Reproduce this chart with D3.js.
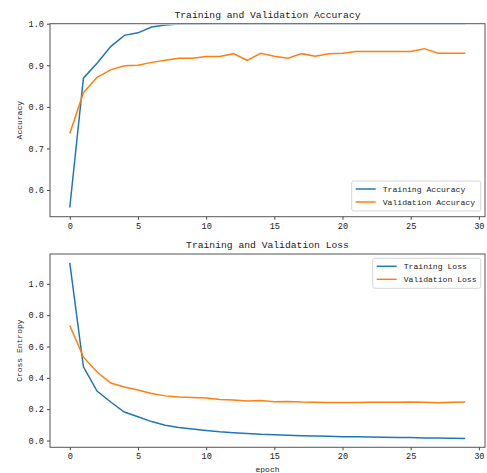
<!DOCTYPE html>
<html>
<head>
<meta charset="utf-8">
<script src="https://cdn.jsdelivr.net/npm/d3@7"></script>
<style>
  body { margin: 0; background: #fff; }
  text { font-family: "Liberation Mono", "DejaVu Sans Mono", monospace; fill: #222; }
</style>
</head>
<body>
<div id="chart"></div>
<script>
var epochs = d3.range(30);
var xTicks = [0, 5, 10, 15, 20, 25, 30];

var trainAcc = [0.558, 0.869, 0.905, 0.945, 0.972, 0.978, 0.992, 0.997, 0.999, 0.999,
  1.0, 1.0, 1.0, 1.0, 1.0, 1.0, 1.0, 1.0, 1.0, 1.0,
  1.0, 1.0, 1.0, 1.0, 1.0, 1.0, 1.0, 1.0, 1.0, 1.0];
var valAcc = [0.736, 0.834, 0.871, 0.889, 0.899, 0.900, 0.907, 0.912, 0.917, 0.917,
  0.921, 0.921, 0.928, 0.912, 0.929, 0.922, 0.917, 0.928, 0.922, 0.928,
  0.929, 0.933, 0.933, 0.933, 0.933, 0.933, 0.940, 0.929, 0.929, 0.929];
var accTicks = [0.6, 0.7, 0.8, 0.9, 1.0];

var trainLoss = [1.134, 0.470, 0.316, 0.246, 0.182, 0.152, 0.121, 0.098, 0.083, 0.073,
  0.064, 0.056, 0.050, 0.045, 0.040, 0.037, 0.034, 0.031, 0.029, 0.027,
  0.025, 0.024, 0.022, 0.021, 0.020, 0.019, 0.017, 0.016, 0.015, 0.013];
var valLoss = [0.734, 0.532, 0.437, 0.367, 0.342, 0.322, 0.300, 0.285, 0.278, 0.275,
  0.271, 0.262, 0.258, 0.252, 0.256, 0.248, 0.249, 0.246, 0.245, 0.243,
  0.242, 0.243, 0.244, 0.245, 0.245, 0.246, 0.244, 0.241, 0.245, 0.246];
var lossTicks = [0.0, 0.2, 0.4, 0.6, 0.8, 1.0];

var width = 487, height = 473;
var blue = "#1f77b4", orange = "#ff7f0e";

var svg = d3.select("#chart").append("svg")
  .attr("width", width)
  .attr("height", height);

var x = d3.scaleLinear().domain([-1.45, 30.45]).range([50, 485]);

function padded(values) {
  var ext = d3.extent(values);
  var pad = (ext[1] - ext[0]) * 0.05;
  return [ext[0] - pad, ext[1] + pad];
}

var accDomain = padded(trainAcc.concat(valAcc));
accDomain[1] = 1;

drawPanel({
  id: "acc", top: 23.7, bottom: 216.7,
  domain: accDomain, yTicks: accTicks,
  title: "Training and Validation Accuracy", ylabel: "Accuracy",
  series: [
    { name: "Training Accuracy", values: trainAcc, color: blue },
    { name: "Validation Accuracy", values: valAcc, color: orange }
  ],
  legend: "lower"
});

drawPanel({
  id: "loss", top: 254, bottom: 447.3,
  domain: padded(trainLoss.concat(valLoss)), yTicks: lossTicks,
  title: "Training and Validation Loss", ylabel: "Cross Entropy",
  series: [
    { name: "Training Loss", values: trainLoss, color: blue },
    { name: "Validation Loss", values: valLoss, color: orange }
  ],
  legend: "upper",
  xlabel: "epoch"
});

function drawPanel(p) {
  var y = d3.scaleLinear().domain(p.domain).range([p.bottom, p.top]);
  var g = svg.append("g");

  // clip a hair inside the frame so a line sitting on the edge hides under the spine
  g.append("clipPath").attr("id", "clip-" + p.id)
    .append("rect")
    .attr("x", 50).attr("y", p.top + 1)
    .attr("width", 435).attr("height", p.bottom - p.top - 1);

  var line = d3.line()
    .x(function (d, i) { return x(epochs[i]); })
    .y(function (d) { return y(d); });

  g.selectAll("path.series")
    .data(p.series)
    .enter()
    .append("path")
    .attr("class", "series")
    .attr("clip-path", "url(#clip-" + p.id + ")")
    .attr("fill", "none")
    .attr("stroke", function (d) { return d.color; })
    .attr("stroke-width", 1.5)
    .attr("d", function (d) { return line(d.values); });

  var xAxis = g.append("g")
    .attr("transform", "translate(0," + p.bottom + ")")
    .call(d3.axisBottom(x).tickValues(xTicks).tickSize(3).tickPadding(3).tickFormat(d3.format("d")));
  var yAxis = g.append("g")
    .attr("transform", "translate(50,0)")
    .call(d3.axisLeft(y).tickValues(p.yTicks).tickSize(3).tickPadding(3).tickFormat(d3.format(".1f")));

  [xAxis, yAxis].forEach(function (a) {
    a.select(".domain").remove();
    a.selectAll(".tick line").attr("stroke", "#444");
    a.selectAll(".tick text").attr("font-size", "8.6px").attr("fill", "#222")
      .style("font-family", "Liberation Mono, monospace");
  });

  // spines drawn above the lines
  g.append("rect")
    .attr("x", 50).attr("y", p.top)
    .attr("width", 435).attr("height", p.bottom - p.top)
    .attr("fill", "none")
    .attr("stroke", "#555")
    .attr("stroke-width", 1);

  g.append("text")
    .attr("x", 267.5).attr("y", p.top - 6)
    .attr("text-anchor", "middle")
    .attr("font-size", "9.7px")
    .text(p.title);

  g.append("text")
    .attr("transform", "translate(22," + ((p.top + p.bottom) / 2) + ") rotate(-90)")
    .attr("text-anchor", "middle")
    .attr("font-size", "8px")
    .text(p.ylabel);

  if (p.xlabel) {
    g.append("text")
      .attr("x", 267.5).attr("y", p.bottom + 25)
      .attr("text-anchor", "middle")
      .attr("font-size", "8px")
      .text(p.xlabel);
  }

  var lw = p.legend === "lower" ? 129 : 108;
  var lh = 30;
  var lx = 480.7 - lw;
  var ly = p.legend === "lower" ? p.bottom - 5.7 - lh : p.top + 4.3;

  var leg = g.append("g").attr("transform", "translate(" + lx + "," + ly + ")");
  leg.append("rect")
    .attr("width", lw).attr("height", lh)
    .attr("rx", 2)
    .attr("fill", "#fff").attr("fill-opacity", 0.8)
    .attr("stroke", "#ccc").attr("stroke-width", 0.8);

  var item = leg.selectAll("g.item")
    .data(p.series)
    .enter()
    .append("g")
    .attr("class", "item")
    .attr("transform", function (d, i) { return "translate(0," + (8 + i * 13) + ")"; });
  item.append("line")
    .attr("x1", 4).attr("x2", 24)
    .attr("stroke", function (d) { return d.color; })
    .attr("stroke-width", 1.5);
  item.append("text")
    .attr("x", 31).attr("dy", "0.35em")
    .attr("font-size", "8.1px")
    .text(function (d) { return d.name; });
}
</script>
</body>
</html>
